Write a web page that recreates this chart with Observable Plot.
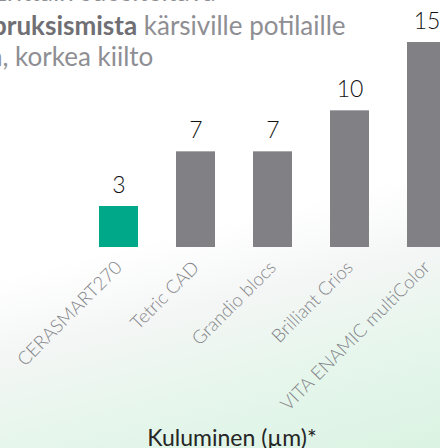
<!DOCTYPE html>
<html><head><meta charset="utf-8">
<script src="https://cdn.jsdelivr.net/npm/d3@7"></script>
<script src="https://cdn.jsdelivr.net/npm/@observablehq/plot@0.6"></script>
<style>
html,body{margin:0;padding:0;}
#wrap{position:relative;width:440px;height:448px;overflow:hidden;
 background:linear-gradient(166deg,#ffffff 0%,#ffffff 50%,#f4f6f5 64%,#e6f6ec 80%,#dbf3e3 100%);
 font-family:Lato,"Noto Sans",sans-serif;}
.t{position:absolute;white-space:nowrap;color:#8e8e93;font-size:26px;font-weight:400;line-height:1;}
.t b{color:#6f6f74;font-weight:700;}
#cap{position:absolute;left:0;width:464px;text-align:center;top:423px;font-size:23px;font-weight:400;color:#262626;font-family:Lato,sans-serif;}
#chart{position:absolute;left:0;top:0;}
</style></head>
<body><div id="wrap">
<div id="chart"></div>
<div class="t" style="left:-8px;top:-22px">Erittäin suositeltava</div>
<div class="t" style="left:-8px;top:12px"><b>bruksismista</b> kärsiville potilaille</div>
<div class="t" style="left:-12px;top:43px">n, korkea kiilto</div>
<div id="cap">Kuluminen (µm)*</div>
</div>
<script>
const materials = ["CERASMART270","Tetric CAD","Grandio blocs","Brilliant Crios","VITA ENAMIC multiColor"];
const wear = [3,7,7,10,15];
const highlight = ["CERASMART270"];
const data = materials.map((m,i)=>({material:m, wear:wear[i]}));
const chart = Plot.plot({
  width:440, height:448,
  marginTop:42, marginBottom:201, marginLeft:0, marginRight:0,
  style:{background:"transparent", fontFamily:"Lato, sans-serif", overflow:"visible"},
  x:{domain:materials, range:[60,484], padding:0.5},
  y:{domain:[0,15], axis:null},
  marks:[
    Plot.barY(data,{x:"material", y:"wear", fill:d=>highlight.includes(d.material)?"#00a88a":"#818185"}),
    Plot.text(data,{x:"material", y:"wear", text:d=>String(d.wear), dy:-21, fontSize:23, fill:"#111111", fontWeight:300}),
    Plot.axisX({tickSize:0, tickRotate:-45, tickPadding:17, fontSize:18.5, fill:"#85858a", fontWeight:300, label:null})
  ]
});
document.getElementById("chart").appendChild(chart);
</script>
</body></html>
